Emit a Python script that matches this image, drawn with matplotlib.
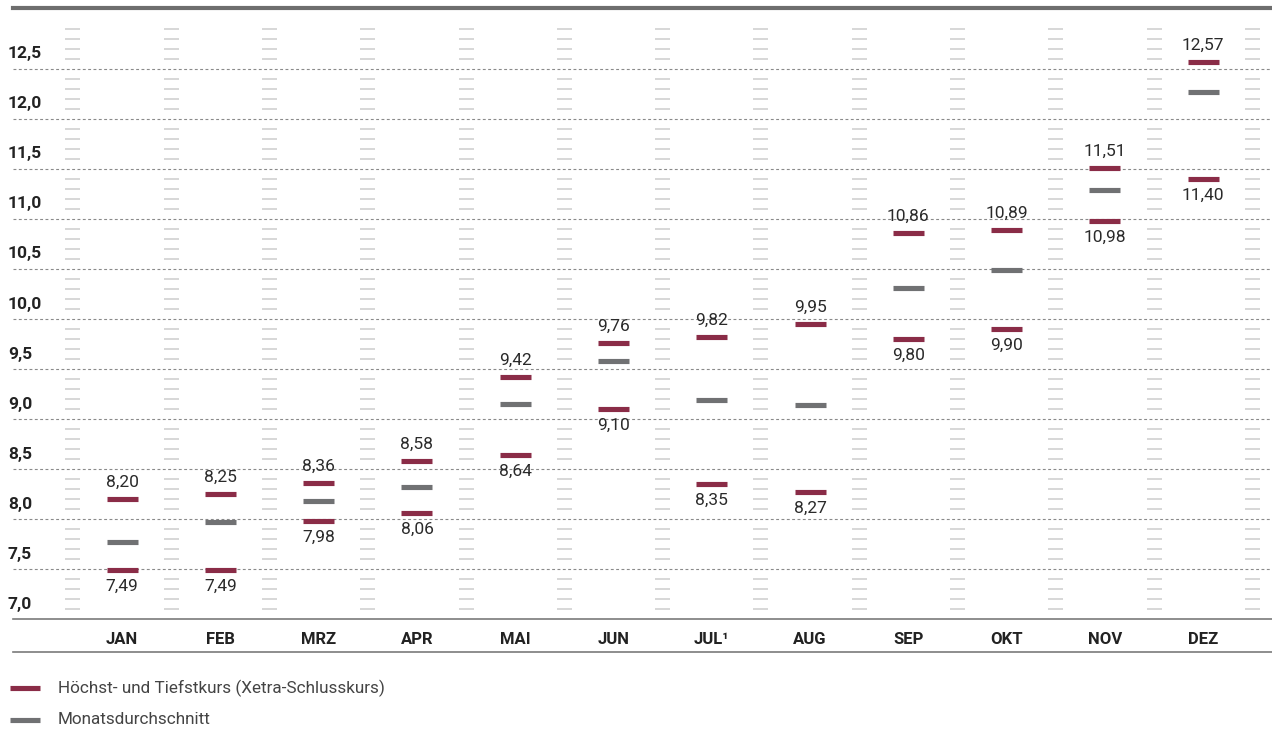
import matplotlib
matplotlib.use("Agg")
import matplotlib.pyplot as plt
import matplotlib.transforms as mtransforms
from matplotlib.lines import Line2D

plt.rcParams['font.family'] = ['Roboto', 'DejaVu Sans']

# Monthly share price data
months = ["JAN", "FEB", "MRZ", "APR", "MAI", "JUN", "JUL\u00b9", "AUG", "SEP", "OKT", "NOV", "DEZ"]
high = [8.20, 8.25, 8.36, 8.58, 9.42, 9.76, 9.82, 9.95, 10.86, 10.89, 11.51, 12.57]
low = [7.49, 7.49, 7.98, 8.06, 8.64, 9.10, 8.35, 8.27, 9.80, 9.90, 10.98, 11.40]
avg = [7.77, 7.97, 8.18, 8.32, 9.15, 9.58, 9.19, 9.14, 10.31, 10.49, 11.29, 12.27]
ytick_values = [7.0, 7.5, 8.0, 8.5, 9.0, 9.5, 10.0, 10.5, 11.0, 11.5, 12.0, 12.5]
legend_labels = ["Höchst- und Tiefstkurs (Xetra-Schlusskurs)", "Monatsdurchschnitt"]

RED = "#8a2c47"
GREY = "#707173"
HATCH = "#cdcdcd"
TEXT = "#222222"

W, H = 1272, 729
fig = plt.figure(figsize=(W / 100, H / 100), dpi=100)
ax = fig.add_axes([13 / W, 1 - 619 / H, 1 - 13 / W, (619 - 8) / H])

ax.set_xlim(-1.11, 11.70)
ax.set_ylim(7.0, 13.11)

# dashed grid lines
for v in ytick_values[1:]:
    ax.axhline(v, color="#8a8a8a", lw=0.8, ls=(0, (2.6, 2.2)), zorder=1)

# small hatch marks between month columns
xs_h = [i - 0.5 for i in range(len(months) + 1)]
hv = [round(7.0 + k * 0.1, 1) for k in range(1, 60)]
hv = [v for v in hv if abs(v * 2 - round(v * 2)) > 1e-6]
for xh in xs_h:
    ax.hlines(hv, xh - 0.076, xh + 0.076, color=HATCH, lw=1.1, zorder=1)

# high / low / average marks
x = list(range(len(months)))
bw = 0.158
ax.hlines(high, [i - bw for i in x], [i + bw for i in x], color=RED, lw=3.7, zorder=3)
ax.hlines(low, [i - bw for i in x], [i + bw for i in x], color=RED, lw=3.7, zorder=3)
ax.hlines(avg, [i - bw for i in x], [i + bw for i in x], color=GREY, lw=3.7, zorder=3)

def fmt(v):
    return f"{v:.2f}".replace(".", ",")

val_kw = dict(ha="center", fontsize=12.5, fontweight="normal", color="#2a2a2a")
for i in x:
    ax.annotate(fmt(high[i]), (i, high[i]), xytext=(0, 6.5), textcoords="offset points",
                va="bottom", **val_kw)
    ax.annotate(fmt(low[i]), (i, low[i]), xytext=(0, -6.5), textcoords="offset points",
                va="top", **val_kw)

# y labels sit just above their value line, at the left edge
ylab_tr = mtransforms.blended_transform_factory(fig.transFigure, ax.transData) + \
    mtransforms.ScaledTranslation(0, 15 / 100, fig.dpi_scale_trans)
for v in ytick_values:
    ax.text(8 / W, v, f"{v:.1f}".replace(".", ","), transform=ylab_tr, ha="left",
            va="center", fontsize=12.5, fontweight="bold", color=TEXT, clip_on=False)

ax.set_yticks([])
ax.set_xticks(x, months)
ax.tick_params(axis="x", length=0, pad=9, labelsize=12, colors=TEXT)
for lab in ax.get_xticklabels():
    lab.set_fontweight("bold")

for s in ["left", "right"]:
    ax.spines[s].set_visible(False)
ax.spines["bottom"].set_color("#7a7a7a")
ax.spines["bottom"].set_linewidth(1.2)
ax.spines["top"].set_color("#6e6e6e")
ax.spines["top"].set_linewidth(3.0)

# rule below the month labels
fig.add_artist(Line2D([13 / W, 1.0], [1 - 652 / H, 1 - 652 / H], color="#7a7a7a", lw=1.2,
                      transform=fig.transFigure))

# legend
for yy, col, lab in [(688, RED, legend_labels[0]), (720, GREY, legend_labels[1])]:
    fig.add_artist(Line2D([10 / W, 40 / W], [1 - yy / H, 1 - yy / H], color=col, lw=3.7,
                          solid_capstyle="butt", transform=fig.transFigure))
    fig.text(58 / W, 1 - yy / H, lab, ha="left", va="center", fontsize=12.3,
             fontweight="normal", color="#444444")

fig.savefig("out.png", dpi=100)
